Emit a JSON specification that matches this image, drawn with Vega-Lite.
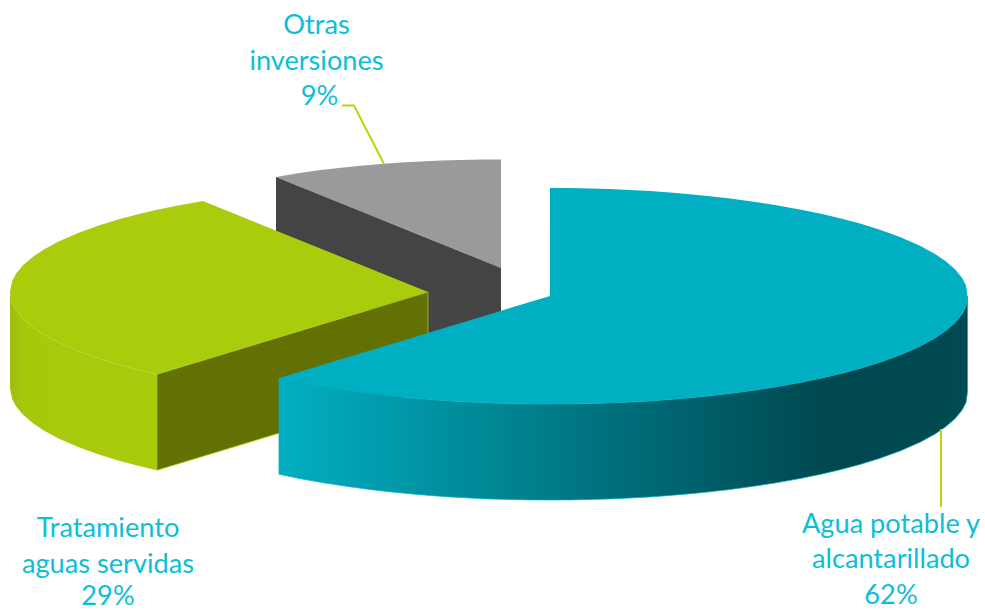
{
"$schema":"https://vega.github.io/schema/vega-lite/v6.json",
"width":985,"height":610,"autosize":{"type":"none"},"padding":0,
"background":"white","view":{"stroke":null},
"datasets":{
"grayTop":[{"i":1,"x":276,"y":177,"y2":177},{"i":2,"x":301,"y":172.7,"y2":187.1},{"i":3,"x":321,"y":170,"y2":195.2},{"i":4,"x":341,"y":167.7,"y2":203.3},{"i":5,"x":361,"y":165.7,"y2":211.4},{"i":6,"x":381,"y":164,"y2":219.5},{"i":7,"x":401,"y":162.6,"y2":227.6},{"i":8,"x":421,"y":161.5,"y2":235.6},{"i":9,"x":441,"y":160.6,"y2":243.7},{"i":10,"x":461,"y":160,"y2":251.8},{"i":11,"x":481,"y":159.6,"y2":259.9},{"i":12,"x":501,"y":159.5,"y2":268}],
"grayCut":[{"i":1,"x":276,"y":177,"y2":273},{"i":2,"x":501,"y":268,"y2":364}],
"greenCut":[{"i":1,"x":157,"y":374.2,"y2":470.2},{"i":2,"x":428,"y":292,"y2":388}],
"greenTop":[{"i":1,"x":10,"y":292,"y2":292},{"i":2,"x":12,"y":281.5,"y2":302.5},{"i":3,"x":16,"y":273.8,"y2":310.2},{"i":4,"x":23,"y":265.3,"y2":318.7},{"i":5,"x":33,"y":256.7,"y2":327.3},{"i":6,"x":43,"y":249.9,"y2":334.1},{"i":7,"x":58,"y":241.7,"y2":342.3},{"i":8,"x":78,"y":233,"y2":351},{"i":9,"x":98,"y":225.7,"y2":358.3},{"i":10,"x":118,"y":219.6,"y2":364.4},{"i":11,"x":138,"y":214.2,"y2":369.8},{"i":12,"x":157,"y":209.8,"y2":374.2},{"i":13,"x":178,"y":205.4,"y2":367.8},{"i":14,"x":203,"y":201,"y2":360.2},{"i":15,"x":428,"y":292,"y2":292}],
"greenSide":[{"i":1,"x":10,"y":292,"y2":388},{"i":2,"x":12,"y":302.5,"y2":398.5},{"i":3,"x":16,"y":310.2,"y2":406.2},{"i":4,"x":23,"y":318.7,"y2":414.7},{"i":5,"x":33,"y":327.3,"y2":423.3},{"i":6,"x":43,"y":334.1,"y2":430.1},{"i":7,"x":58,"y":342.3,"y2":438.3},{"i":8,"x":78,"y":351,"y2":447},{"i":9,"x":98,"y":358.3,"y2":454.3},{"i":10,"x":118,"y":364.4,"y2":460.4},{"i":11,"x":138,"y":369.8,"y2":465.8},{"i":12,"x":157,"y":374.2,"y2":470.2}],
"blueSide":[{"i":1,"x":279,"y":378.2,"y2":474.2},{"i":2,"x":300,"y":382.6,"y2":478.6},{"i":3,"x":325,"y":387,"y2":483},{"i":4,"x":350,"y":390.8,"y2":486.8},{"i":5,"x":370,"y":393.5,"y2":489.5},{"i":6,"x":390,"y":395.8,"y2":491.8},{"i":7,"x":410,"y":397.8,"y2":493.8},{"i":8,"x":430,"y":399.5,"y2":495.5},{"i":9,"x":450,"y":400.9,"y2":496.9},{"i":10,"x":470,"y":402,"y2":498},{"i":11,"x":490,"y":402.9,"y2":498.9},{"i":12,"x":510,"y":403.5,"y2":499.5},{"i":13,"x":530,"y":403.9,"y2":499.9},{"i":14,"x":550,"y":404,"y2":500},{"i":15,"x":570,"y":403.9,"y2":499.9},{"i":16,"x":590,"y":403.5,"y2":499.5},{"i":17,"x":610,"y":402.9,"y2":498.9},{"i":18,"x":630,"y":402,"y2":498},{"i":19,"x":650,"y":400.9,"y2":496.9},{"i":20,"x":670,"y":399.5,"y2":495.5},{"i":21,"x":690,"y":397.8,"y2":493.8},{"i":22,"x":710,"y":395.8,"y2":491.8},{"i":23,"x":730,"y":393.5,"y2":489.5},{"i":24,"x":750,"y":390.8,"y2":486.8},{"i":25,"x":775,"y":387,"y2":483},{"i":26,"x":800,"y":382.6,"y2":478.6},{"i":27,"x":821,"y":378.2,"y2":474.2},{"i":28,"x":840,"y":373.8,"y2":469.8},{"i":29,"x":860,"y":368.4,"y2":464.4},{"i":30,"x":880,"y":362.3,"y2":458.3},{"i":31,"x":900,"y":355,"y2":451},{"i":32,"x":920,"y":346.3,"y2":442.3},{"i":33,"x":935,"y":338.1,"y2":434.1},{"i":34,"x":945,"y":331.3,"y2":427.3},{"i":35,"x":955,"y":322.7,"y2":418.7},{"i":36,"x":962,"y":314.2,"y2":410.2},{"i":37,"x":966,"y":306.5,"y2":402.5},{"i":38,"x":967.5,"y":296,"y2":392}],
"blueTop":[{"i":1,"x":279,"y":378,"y2":378.2},{"i":2,"x":300,"y":371.7,"y2":382.6},{"i":3,"x":325,"y":364.1,"y2":387},{"i":4,"x":350,"y":356.5,"y2":390.8},{"i":5,"x":370,"y":350.5,"y2":393.5},{"i":6,"x":390,"y":344.4,"y2":395.8},{"i":7,"x":410,"y":338.4,"y2":397.8},{"i":8,"x":430,"y":332.3,"y2":399.5},{"i":9,"x":450,"y":326.3,"y2":400.9},{"i":10,"x":470,"y":320.2,"y2":402},{"i":11,"x":490,"y":314.2,"y2":402.9},{"i":12,"x":510,"y":308.1,"y2":403.5},{"i":13,"x":530,"y":302.1,"y2":403.9},{"i":14,"x":549.9,"y":296,"y2":404},{"i":15,"x":550,"y":188,"y2":404},{"i":16,"x":570,"y":188.1,"y2":403.9},{"i":17,"x":590,"y":188.5,"y2":403.5},{"i":18,"x":610,"y":189.1,"y2":402.9},{"i":19,"x":630,"y":190,"y2":402},{"i":20,"x":650,"y":191.1,"y2":400.9},{"i":21,"x":670,"y":192.5,"y2":399.5},{"i":22,"x":690,"y":194.2,"y2":397.8},{"i":23,"x":710,"y":196.2,"y2":395.8},{"i":24,"x":730,"y":198.5,"y2":393.5},{"i":25,"x":750,"y":201.2,"y2":390.8},{"i":26,"x":775,"y":205,"y2":387},{"i":27,"x":800,"y":209.4,"y2":382.6},{"i":28,"x":821,"y":213.8,"y2":378.2},{"i":29,"x":840,"y":218.2,"y2":373.8},{"i":30,"x":860,"y":223.6,"y2":368.4},{"i":31,"x":880,"y":229.7,"y2":362.3},{"i":32,"x":900,"y":237,"y2":355},{"i":33,"x":920,"y":245.7,"y2":346.3},{"i":34,"x":935,"y":253.9,"y2":338.1},{"i":35,"x":945,"y":260.7,"y2":331.3},{"i":36,"x":955,"y":269.3,"y2":322.7},{"i":37,"x":962,"y":277.8,"y2":314.2},{"i":38,"x":966,"y":285.5,"y2":306.5},{"i":39,"x":967.5,"y":296,"y2":296}],
"leaders":[{"s":"otras","i":1,"x":342,"y":105.5},{"s":"otras","i":2,"x":354,"y":105.5},{"s":"otras","i":3,"x":384,"y":164},{"s":"agua","i":1,"x":941,"y":429},{"s":"agua","i":2,"x":941,"y":507}],
"labels":[{"t":"Otras","x":316.5,"y":34},{"t":"inversiones","x":316.5,"y":70},{"t":"9%","x":319.5,"y":105},{"t":"Agua potable y","x":891,"y":533},{"t":"alcantarillado","x":891,"y":568},{"t":"62%","x":891,"y":604},{"t":"Tratamiento","x":108,"y":537},{"t":"aguas servidas","x":108,"y":573},{"t":"29%","x":108,"y":605}]
},
"encoding":{
"x":{"field":"x","type":"quantitative","scale":{"domain":[0,985],"nice":false,"zero":false},"axis":null},
"y":{"field":"y","type":"quantitative","scale":{"domain":[610,0],"nice":false,"zero":false},"axis":null}
},
"layer":[
{"data":{"name":"grayTop"},"mark":{"type":"area","orient":"vertical","color":"#9A9A9A"},"encoding":{"y2":{"field":"y2"}}},
{"data":{"name":"grayCut"},"mark":{"type":"area","orient":"vertical","color":"#444444"},"encoding":{"y2":{"field":"y2"}}},
{"data":{"name":"greenCut"},"mark":{"type":"area","orient":"vertical","fill":"#637104","stroke":"#A9CD0D","strokeWidth":0.8},"encoding":{"y2":{"field":"y2"}}},
{"data":{"name":"greenSide"},"mark":{"type":"area","orient":"vertical","color":{"gradient":"linear","x1":0,"y1":0,"x2":1,"y2":0,"stops":[{"offset":0,"color":"#9FBF0C"},{"offset":0.12,"color":"#A6C90C"},{"offset":1,"color":"#A8CC0C"}]}},"encoding":{"y2":{"field":"y2"}}},
{"data":{"name":"greenTop"},"mark":{"type":"area","orient":"vertical","color":"#A9CD0D"},"encoding":{"y2":{"field":"y2"}}},
{"data":{"name":"blueSide"},"mark":{"type":"area","orient":"vertical","fill":{"gradient":"linear","x1":0,"y1":0,"x2":1,"y2":0,"stops":[{"offset":0,"color":"#00AFC2"},{"offset":0.4,"color":"#007B88"},{"offset":0.8,"color":"#00474F"},{"offset":1,"color":"#004A52"}]},"stroke":"#00AFC2","strokeWidth":0.7},"encoding":{"y2":{"field":"y2"}}},
{"data":{"name":"blueTop"},"mark":{"type":"area","orient":"vertical","color":"#00AFC2"},"encoding":{"y2":{"field":"y2"}}},
{"data":{"name":"leaders"},"mark":{"type":"line","color":"#B5D70C","strokeWidth":2},"encoding":{"detail":{"field":"s"},"order":{"field":"i"}}},
{"data":{"name":"labels"},"mark":{"type":"text","font":"Lato","fontSize":27.2,"color":"#0DBED6","align":"center","baseline":"alphabetic"},"encoding":{"text":{"field":"t"}}}
]
}
